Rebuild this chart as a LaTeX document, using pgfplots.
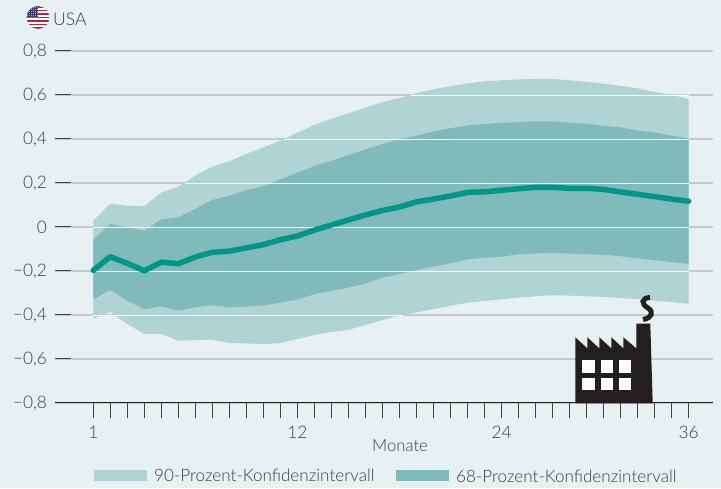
\documentclass[border=0pt]{standalone}
\usepackage{fontspec}
\setmainfont{Lato}[UprightFont=* Light]
\usepackage{pgfplots}
\usepackage{pgfplotstable}
\pgfplotsset{compat=1.18}
\definecolor{bg}{HTML}{E8F1F2}
\definecolor{band90}{HTML}{B0D4D3}
\definecolor{band68}{HTML}{80BABA}
\definecolor{meanline}{HTML}{009688}
\definecolor{gridg}{HTML}{C6CACB}
\definecolor{txt}{HTML}{3C3C3C}
\definecolor{ink}{HTML}{231F20}
\definecolor{usred}{HTML}{B5213B}
\definecolor{usblue}{HTML}{3C3B6E}
\pgfplotstableread{
x m
0 -0.197
1 -0.135
2 -0.165
3 -0.199
4 -0.160
5 -0.167
6 -0.136
7 -0.115
8 -0.110
9 -0.095
10 -0.080
11 -0.058
12 -0.041
13 -0.014
14 0.009
15 0.032
16 0.055
17 0.075
18 0.091
19 0.114
20 0.127
21 0.141
22 0.157
23 0.160
24 0.167
25 0.174
26 0.180
27 0.180
28 0.176
29 0.176
30 0.171
31 0.159
32 0.149
33 0.138
34 0.127
35 0.117
}\meandata
\pgfplotstableread{
x y
0 0.029
1 0.106
2 0.097
3 0.095
4 0.156
5 0.183
6 0.233
7 0.274
8 0.299
9 0.332
10 0.362
11 0.392
12 0.429
13 0.464
14 0.492
15 0.517
16 0.542
17 0.568
18 0.586
19 0.608
20 0.626
21 0.640
22 0.653
23 0.662
24 0.667
25 0.671
26 0.673
27 0.673
28 0.667
29 0.660
30 0.651
31 0.642
32 0.630
33 0.614
34 0.600
35 0.582
35 -0.349
34 -0.341
33 -0.335
32 -0.327
31 -0.323
30 -0.318
29 -0.315
28 -0.312
27 -0.310
26 -0.315
25 -0.321
24 -0.329
23 -0.336
22 -0.344
21 -0.358
20 -0.373
19 -0.388
18 -0.403
17 -0.423
16 -0.445
15 -0.468
14 -0.477
13 -0.491
12 -0.509
11 -0.527
10 -0.533
9 -0.529
8 -0.527
7 -0.512
6 -0.514
5 -0.517
4 -0.486
3 -0.486
2 -0.441
1 -0.386
0 -0.417
}\bandninety
\pgfplotstableread{
x y
0 -0.059
1 0.014
2 -0.001
3 -0.017
4 0.035
5 0.044
6 0.082
7 0.123
8 0.142
9 0.168
10 0.185
11 0.217
12 0.247
13 0.277
14 0.301
15 0.327
16 0.353
17 0.377
18 0.399
19 0.415
20 0.435
21 0.449
22 0.462
23 0.467
24 0.474
25 0.476
26 0.480
27 0.480
28 0.474
29 0.470
30 0.460
31 0.453
32 0.438
33 0.429
34 0.415
35 0.403
35 -0.168
34 -0.159
33 -0.151
32 -0.142
31 -0.133
30 -0.126
29 -0.124
28 -0.121
27 -0.118
26 -0.120
25 -0.124
24 -0.135
23 -0.140
22 -0.147
21 -0.165
20 -0.180
19 -0.195
18 -0.214
17 -0.230
16 -0.256
15 -0.276
14 -0.290
13 -0.306
12 -0.329
11 -0.344
10 -0.356
9 -0.362
8 -0.365
7 -0.356
6 -0.365
5 -0.380
4 -0.360
3 -0.374
2 -0.335
1 -0.286
0 -0.329
}\bandsixtyeight
\begin{document}
\begin{tikzpicture}
\useasboundingbox (0pt,0pt) rectangle (721pt,488pt);
\fill[bg] (0pt,0pt) rectangle (721pt,488pt);
\begin{axis}[
  at={(55pt,85pt)}, anchor=south west,
  scale only axis, width=658pt, height=352pt,
  xmin=-2.25, xmax=36.43, ymin=-0.8, ymax=0.8,
  axis x line=bottom, axis y line=left,
  x axis line style={-,draw=ink,line width=1pt},
  y axis line style={draw=none},
  tick align=outside,
  major tick length=15.5pt,
  x tick style={draw=ink!85,line width=0.9pt},
  y tick style={draw=ink!85,line width=1pt,xshift=15.5pt},
  xtick={0,...,35},
  xticklabels={1,,,,,,,,,,,,12,,,,,,,,,,,,24,,,,,,,,,,,36},
  ytick={-0.8,-0.6,-0.4,-0.2,0,0.2,0.4,0.6,0.8},
  yticklabels={{−0,8},{−0,6},{−0,4},{−0,2},0,{0,2},{0,4},{0,6},{0,8}},
  ymajorgrids,
  grid style={draw=gridg,line width=1.1pt},
  tick label style={font=\fontsize{17.3}{18}\selectfont,text=txt},
  yticklabel style={anchor=east,xshift=11pt},
  xticklabel style={anchor=center,yshift=-13.5pt},
]
\addplot[fill=band90,draw=none,forget plot] table[x=x,y=y]{\bandninety} -- cycle;
\addplot[fill=band68,draw=none,forget plot] table[x=x,y=y]{\bandsixtyeight} -- cycle;
\addplot[white,line width=0.9pt,forget plot] coordinates {(18.7,0.6)(35,0.6)};
\addplot[white,line width=0.9pt,forget plot] coordinates {(11.2,0.4)(35,0.4)};
\addplot[white,line width=0.9pt,forget plot] coordinates {(5.4,0.2)(35,0.2)};
\addplot[white,line width=0.9pt,forget plot] coordinates {(0,0)(35,0)};
\addplot[white,line width=0.9pt,forget plot] coordinates {(0,-0.2)(35,-0.2)};
\addplot[white!80!bg,line width=0.9pt,forget plot] coordinates {(0,-0.4)(18.2,-0.4)};
\addplot[meanline,line width=5.5pt,line cap=round,line join=round] table[x=x,y=m]{\meandata};
\end{axis}
% decorations in reference pixel coordinates (y downwards)
\begin{scope}[shift={(0pt,488pt)},x=1pt,y=-1pt]
  % flag
  \begin{scope}
    \clip (38,17.5) circle (11.4);
    \fill[white] (26,6) rectangle (50,29);
    \foreach \k in {0,2,4,6,8,10,12}{\fill[usred] (26,{6.1+\k*1.75}) rectangle (50,{6.1+\k*1.75+1.75});}
    \fill[usblue] (26,6) rectangle (38,18.3);
    \foreach \i in {0,...,5}{\foreach \j in {0,...,5}{\fill[white!80!usblue] ({27.5+\i*2},{7.5+\j*2}) circle (0.45);}}
  \end{scope}
  \node[anchor=west,inner sep=0pt,text=txt,font=\fontsize{17.5}{18}\selectfont] at (53,19.5) {USA};
  \node[anchor=center,inner sep=0pt,text=txt,font=\fontsize{16.7}{18}\selectfont] at (400,446) {Monate};
  % legend
  \fill[band90] (94,470) rectangle (147,481);
  \node[anchor=west,inner sep=0pt,text=txt,font=\fontsize{17.1}{18}\selectfont] at (154,475.5) {90-Prozent-Konfidenzintervall};
  \fill[band68] (396,470) rectangle (449,481);
  \node[anchor=west,inner sep=0pt,text=txt,font=\fontsize{17.1}{18}\selectfont] at (456,476.5) {68-Prozent-Konfidenzintervall};
  % factory
  \fill[ink] (575.3,403.3) -- (575.3,337.3) -- (587.3,348.3) -- (587.3,337.3) -- (599.3,348.3) -- (599.3,337.3) -- (611.3,348.3) -- (611.3,337.3) -- (623.3,348.3) -- (623.3,337.3) -- (636.3,348.3) -- (636.3,323.7) -- (650.3,323.7) -- (652.7,403.3) -- cycle;
  \foreach \xa in {582.3,600.5,618.6}{\foreach \ya in {360.3,377.7}{\fill[white] (\xa,\ya) rectangle ++(12.7,12.7);}}
  \draw[ink,line width=5pt] (650,297.5) .. controls (641,298) and (641,304) .. (648,308) .. controls (654,312) and (652,318) .. (643,319.5);
\end{scope}
\end{tikzpicture}
\end{document}
